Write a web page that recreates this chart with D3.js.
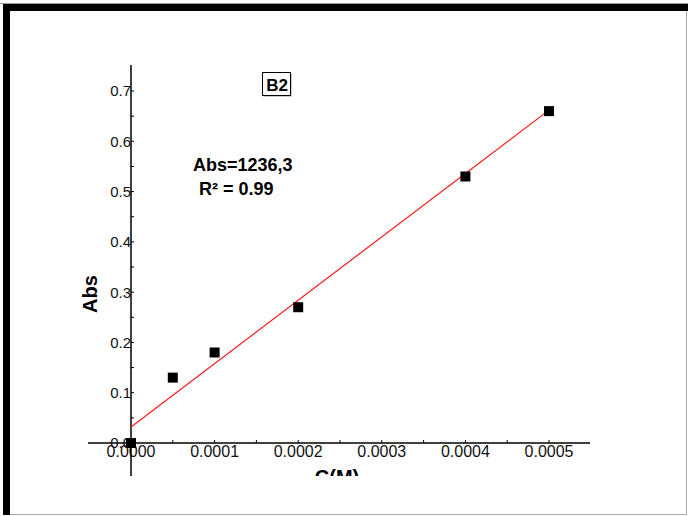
<!DOCTYPE html>
<html>
<head>
<meta charset="utf-8">
<script src="https://cdn.jsdelivr.net/npm/d3@7"></script>
<style>
  html, body { margin: 0; padding: 0; background: #fff; }
  svg { display: block; font-family: "Liberation Sans", Arial, sans-serif; }
</style>
</head>
<body>
<svg id="chart"></svg>
<script>
// data
const conc = [0, 0.00005, 0.0001, 0.0002, 0.0004, 0.0005];
const abs = [0, 0.13, 0.18, 0.27, 0.53, 0.66];
// fitted line end points (as drawn)
const fitX = [0, 0.0005];
const fitY = [0.032, 0.662];
const xTicks = [0, 0.0001, 0.0002, 0.0003, 0.0004, 0.0005];
const xTickLabels = ["0.0000", "0.0001", "0.0002", "0.0003", "0.0004", "0.0005"];
const yTicks = [0, 0.1, 0.2, 0.3, 0.4, 0.5, 0.6, 0.7];
const yTickLabels = ["0.0", "0.1", "0.2", "0.3", "0.4", "0.5", "0.6", "0.7"];
const xMinor = [0.00005, 0.00015, 0.00025, 0.00035, 0.00045];
const yMinor = [0.05, 0.15, 0.25, 0.35, 0.45, 0.55, 0.65];

const width = 688, height = 516;
const svg = d3.select("#chart").attr("width", width).attr("height", height);

// outer frame
svg.append("rect").attr("x", 0).attr("y", 0).attr("width", width).attr("height", height).attr("fill", "#fff");
svg.append("line").attr("x1", 0).attr("x2", width).attr("y1", 3.5).attr("y2", 3.5).attr("stroke", "#999");
svg.append("rect").attr("x", 3).attr("y", 4).attr("width", width - 3).attr("height", 7).attr("fill", "#000");
svg.append("rect").attr("x", 3).attr("y", 4).attr("width", 7).attr("height", 511).attr("fill", "#000");
svg.append("line").attr("x1", 686.5).attr("x2", 686.5).attr("y1", 11).attr("y2", 515).attr("stroke", "#aaa");
svg.append("line").attr("x1", 10).attr("x2", 687).attr("y1", 514.5).attr("y2", 514.5).attr("stroke", "#aaa");

// scales
const x = d3.scaleLinear([0, 0.0005], [131, 549]);
const y = d3.scaleLinear([0, 0.7], [443, 91]);

svg.append("clipPath").attr("id", "clip")
   .append("rect").attr("x", 0).attr("y", 0).attr("width", width).attr("height", 476);

const g = svg.append("g").attr("clip-path", "url(#clip)");

// x axis
const xAxis = g.append("g").attr("transform", `translate(0, ${y(0)})`);
xAxis.append("line").attr("x1", 88).attr("x2", 590).attr("stroke", "#000").attr("stroke-width", 1.3);
xAxis.selectAll(".tk").data(xTicks.concat(xMinor)).join("line")
     .attr("x1", d => x(d)).attr("x2", d => x(d)).attr("y1", 0).attr("y2", -3)
     .attr("stroke", "#000");
xAxis.selectAll("text").data(xTicks).join("text")
     .attr("x", d => x(d)).attr("y", 14)
     .attr("text-anchor", "middle").attr("font-size", 16).attr("fill", "#111")
     .text((d, i) => xTickLabels[i]);

// y axis
const yAxis = g.append("g").attr("transform", `translate(${x(0)}, 0)`);
yAxis.append("line").attr("y1", 65).attr("y2", 476).attr("stroke", "#000").attr("stroke-width", 1.5);
yAxis.selectAll(".tk").data(yTicks.concat(yMinor)).join("line")
     .attr("y1", d => y(d)).attr("y2", d => y(d)).attr("x1", 0).attr("x2", 3)
     .attr("stroke", "#000");
yAxis.selectAll("text").data(yTicks).join("text")
     .attr("x", 0).attr("y", d => y(d)).attr("dy", "0.36em")
     .attr("text-anchor", "end").attr("font-size", 15).attr("fill", "#111")
     .text((d, i) => yTickLabels[i]);

// axis titles
g.append("text")
 .attr("transform", "translate(97, 294) rotate(-90)")
 .attr("text-anchor", "middle").attr("font-size", 20).attr("font-weight", "bold")
 .text("Abs");
g.append("text")
 .attr("x", 337).attr("y", 484)
 .attr("text-anchor", "middle").attr("font-size", 20).attr("font-weight", "bold")
 .text("C(M)");

// fit line
const line = d3.line().x(d => x(d[0])).y(d => y(d[1]));
g.append("path")
 .datum(d3.zip(fitX, fitY))
 .attr("d", line)
 .attr("fill", "none").attr("stroke", "#ff1a1a").attr("stroke-width", 1.2);

// points
const sz = 10;
g.selectAll(".pt").data(d3.zip(conc, abs)).join("rect")
 .attr("x", d => x(d[0]) - sz / 2).attr("y", d => y(d[1]) - sz / 2)
 .attr("width", sz).attr("height", sz).attr("fill", "#000");

// annotations
const box = svg.append("g").attr("transform", "translate(262, 72)");
box.append("rect").attr("x", 1.5).attr("y", 1.5).attr("width", 28).attr("height", 23).attr("fill", "#999");
box.append("rect").attr("x", 0.5).attr("y", 0.5).attr("width", 28).attr("height", 23).attr("fill", "#fff").attr("stroke", "#000");
box.append("text").attr("x", 15).attr("y", 18.5).attr("text-anchor", "middle")
   .attr("font-size", 17).attr("font-weight", "bold").text("B2");

svg.append("text").attr("x", 193).attr("y", 171)
   .attr("font-size", 18).attr("font-weight", "bold").text("Abs=1236,3");
svg.append("text").attr("x", 199).attr("y", 195)
   .attr("font-size", 18).attr("font-weight", "bold").text("R² = 0.99");
</script>
</body>
</html>
